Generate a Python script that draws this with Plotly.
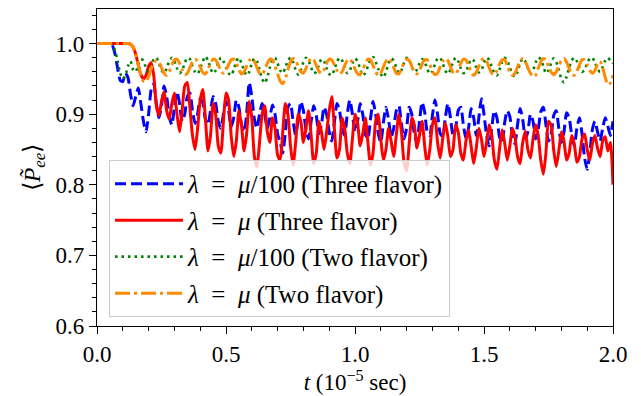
import plotly.graph_objects as go

t = [i / 100 for i in range(201)]

p_mu100_three = [
    1.0, 1.0, 1.0, 1.0, 1.0, 1.0, 0.997, 0.985, 0.965, 0.948,
    0.946, 0.958, 0.952, 0.928, 0.912, 0.925, 0.937, 0.915, 0.89, 0.875,
    0.9, 0.935, 0.943, 0.915, 0.895, 0.912, 0.94, 0.925, 0.897, 0.885,
    0.91, 0.932, 0.915, 0.89, 0.9, 0.925, 0.93, 0.905, 0.887, 0.9,
    0.922, 0.916, 0.893, 0.885, 0.905, 0.925, 0.915, 0.89, 0.88, 0.9,
    0.918, 0.905, 0.882, 0.895, 0.92, 0.91, 0.885, 0.875, 0.9, 0.945,
    0.925, 0.893, 0.88, 0.9, 0.915, 0.9, 0.88, 0.895, 0.913, 0.9,
    0.872, 0.86, 0.845, 0.875, 0.91, 0.915, 0.89, 0.87, 0.893, 0.918,
    0.905, 0.878, 0.865, 0.89, 0.912, 0.898, 0.872, 0.885, 0.91, 0.9,
    0.875, 0.862, 0.888, 0.915, 0.905, 0.88, 0.87, 0.9, 0.92, 0.9,
    0.875, 0.89, 0.915, 0.9, 0.872, 0.865, 0.893, 0.918, 0.9, 0.873,
    0.86, 0.888, 0.91, 0.893, 0.868, 0.88, 0.905, 0.912, 0.886, 0.865,
    0.88, 0.91, 0.9, 0.872, 0.86, 0.89, 0.917, 0.903, 0.875, 0.87,
    0.898, 0.92, 0.9, 0.873, 0.868, 0.895, 0.915, 0.895, 0.87, 0.88,
    0.905, 0.91, 0.885, 0.865, 0.88, 0.908, 0.895, 0.87, 0.895, 0.922,
    0.9, 0.87, 0.855, 0.88, 0.905, 0.895, 0.868, 0.86, 0.888, 0.905,
    0.897, 0.87, 0.858, 0.885, 0.908, 0.893, 0.866, 0.875, 0.9, 0.89,
    0.865, 0.878, 0.903, 0.91, 0.885, 0.862, 0.87, 0.898, 0.905, 0.88,
    0.86, 0.875, 0.902, 0.895, 0.87, 0.855, 0.88, 0.895, 0.872, 0.838,
    0.822, 0.845, 0.878, 0.89, 0.875, 0.862, 0.88, 0.895, 0.883, 0.87,
    0.89,
]

p_mu_three = [
    1.0, 1.0, 1.0, 1.0, 1.0, 1.0, 1.0, 1.0, 1.0, 1.0,
    1.0, 1.0, 1.0, 0.999, 0.995, 0.985, 0.97, 0.956, 0.95, 0.955,
    0.968, 0.973, 0.955, 0.912, 0.898, 0.918, 0.932, 0.905, 0.893, 0.915,
    0.93, 0.9, 0.875, 0.905, 0.94, 0.945, 0.91, 0.87, 0.85, 0.88,
    0.92, 0.935, 0.895, 0.848, 0.87, 0.915, 0.9, 0.855, 0.845, 0.89,
    0.93, 0.92, 0.87, 0.84, 0.862, 0.905, 0.885, 0.848, 0.872, 0.918,
    0.895, 0.84, 0.825, 0.86, 0.9, 0.912, 0.875, 0.86, 0.895, 0.88,
    0.842, 0.835, 0.875, 0.915, 0.9, 0.855, 0.828, 0.86, 0.9, 0.89,
    0.86, 0.88, 0.905, 0.87, 0.83, 0.845, 0.89, 0.875, 0.85, 0.875,
    0.905, 0.925, 0.88, 0.838, 0.85, 0.895, 0.88, 0.845, 0.83, 0.865,
    0.9, 0.888, 0.855, 0.872, 0.895, 0.86, 0.828, 0.845, 0.89, 0.9,
    0.865, 0.835, 0.85, 0.88, 0.862, 0.84, 0.87, 0.9, 0.875, 0.832,
    0.82, 0.858, 0.895, 0.885, 0.852, 0.87, 0.89, 0.855, 0.828, 0.85,
    0.885, 0.895, 0.86, 0.838, 0.865, 0.888, 0.868, 0.84, 0.85, 0.885,
    0.875, 0.845, 0.835, 0.862, 0.878, 0.855, 0.83, 0.852, 0.88, 0.865,
    0.84, 0.86, 0.885, 0.87, 0.835, 0.822, 0.85, 0.878, 0.86, 0.835,
    0.855, 0.88, 0.868, 0.84, 0.83, 0.86, 0.876, 0.85, 0.838, 0.865,
    0.885, 0.87, 0.835, 0.815, 0.845, 0.89, 0.885, 0.85, 0.826, 0.848,
    0.875, 0.862, 0.835, 0.845, 0.87, 0.858, 0.832, 0.84, 0.865, 0.872,
    0.85, 0.835, 0.858, 0.87, 0.852, 0.84, 0.862, 0.868, 0.848, 0.86,
    0.80,
]

p_mu100_two = [
    1.0, 1.0, 1.0, 1.0, 1.0, 1.0, 0.998, 0.99, 0.975, 0.958,
    0.95, 0.955, 0.968, 0.975, 0.963, 0.96, 0.97, 0.978, 0.976, 0.965,
    0.96, 0.968, 0.978, 0.98, 0.972, 0.962, 0.958, 0.965, 0.975, 0.98,
    0.975, 0.965, 0.958, 0.962, 0.972, 0.98, 0.978, 0.968, 0.96, 0.957,
    0.965, 0.975, 0.982, 0.976, 0.965, 0.958, 0.962, 0.973, 0.98, 0.975,
    0.966, 0.958, 0.955, 0.963, 0.975, 0.98, 0.972, 0.962, 0.955, 0.96,
    0.972, 0.979, 0.975, 0.963, 0.95, 0.944, 0.952, 0.966, 0.977, 0.98,
    0.972, 0.962, 0.958, 0.966, 0.976, 0.98, 0.974, 0.963, 0.956, 0.962,
    0.974, 0.98, 0.976, 0.966, 0.958, 0.96, 0.97, 0.978, 0.975, 0.965,
    0.957, 0.955, 0.963, 0.974, 0.98, 0.976, 0.966, 0.958, 0.962, 0.972,
    0.979, 0.975, 0.964, 0.955, 0.958, 0.968, 0.977, 0.981, 0.974, 0.964,
    0.957, 0.952, 0.96, 0.972, 0.979, 0.976, 0.966, 0.958, 0.962, 0.973,
    0.98, 0.977, 0.967, 0.96, 0.963, 0.972, 0.978, 0.974, 0.964, 0.957,
    0.96, 0.971, 0.979, 0.98, 0.972, 0.962, 0.957, 0.963, 0.974, 0.98,
    0.975, 0.965, 0.958, 0.96, 0.97, 0.978, 0.976, 0.966, 0.959, 0.962,
    0.973, 0.98, 0.977, 0.967, 0.958, 0.955, 0.963, 0.974, 0.98, 0.976,
    0.966, 0.957, 0.953, 0.96, 0.972, 0.979, 0.975, 0.965, 0.958, 0.962,
    0.973, 0.98, 0.978, 0.968, 0.958, 0.962, 0.972, 0.979, 0.974, 0.962,
    0.95, 0.945, 0.953, 0.966, 0.976, 0.98, 0.975, 0.966, 0.96, 0.963,
    0.972, 0.979, 0.98, 0.973, 0.964, 0.96, 0.967, 0.976, 0.98, 0.976,
    0.972,
]

p_mu_two = [
    1.0, 1.0, 1.0, 1.0, 1.0, 1.0, 1.0, 1.0, 1.0, 1.0,
    1.0, 1.0, 1.0, 0.999, 0.995, 0.985, 0.97, 0.955, 0.947, 0.946,
    0.953, 0.964, 0.972, 0.976, 0.974, 0.966, 0.958, 0.955, 0.96, 0.97,
    0.977, 0.978, 0.972, 0.963, 0.956, 0.958, 0.966, 0.974, 0.978, 0.975,
    0.967, 0.959, 0.957, 0.963, 0.972, 0.978, 0.977, 0.97, 0.962, 0.958,
    0.962, 0.97, 0.977, 0.978, 0.972, 0.963, 0.957, 0.96, 0.968, 0.976,
    0.979, 0.975, 0.966, 0.958, 0.956, 0.963, 0.972, 0.978, 0.977, 0.968,
    0.957, 0.947, 0.943, 0.95, 0.963, 0.974, 0.979, 0.976, 0.968, 0.96,
    0.958, 0.965, 0.974, 0.979, 0.977, 0.969, 0.961, 0.958, 0.963, 0.972,
    0.978, 0.977, 0.97, 0.962, 0.957, 0.96, 0.969, 0.976, 0.978, 0.973,
    0.964, 0.957, 0.956, 0.963, 0.972, 0.978, 0.977, 0.969, 0.96, 0.955,
    0.958, 0.967, 0.975, 0.979, 0.975, 0.966, 0.958, 0.957, 0.964, 0.973,
    0.978, 0.976, 0.968, 0.96, 0.957, 0.962, 0.971, 0.977, 0.977, 0.97,
    0.961, 0.956, 0.958, 0.967, 0.975, 0.979, 0.976, 0.967, 0.959, 0.957,
    0.963, 0.972, 0.978, 0.977, 0.969, 0.96, 0.955, 0.959, 0.968, 0.976,
    0.979, 0.975, 0.966, 0.958, 0.956, 0.962, 0.971, 0.977, 0.977, 0.969,
    0.96, 0.955, 0.958, 0.967, 0.975, 0.979, 0.975, 0.966, 0.958, 0.953,
    0.955, 0.965, 0.974, 0.979, 0.977, 0.968, 0.96, 0.956, 0.96, 0.969,
    0.976, 0.979, 0.974, 0.965, 0.957, 0.955, 0.961, 0.97, 0.977, 0.977,
    0.97, 0.962, 0.958, 0.962, 0.971, 0.975, 0.966, 0.952, 0.942, 0.944,
    0.955,
]

series_names = [
    "<i>λ</i>\u2002=\u2002<i>μ</i>/100 (Three flavor)",
    "<i>λ</i>\u2002=\u2002<i>μ</i> (Three flavor)",
    "<i>λ</i>\u2002=\u2002<i>μ</i>/100 (Two flavor)",
    "<i>λ</i>\u2002=\u2002<i>μ</i> (Two flavor)",
]
series_values = [p_mu100_three, p_mu_three, p_mu100_two, p_mu_two]
colors = ["#0000ff", "#ff0000", "#008000", "#ff8c00"]
dashes = ["11px,5px", "solid", "2.5px,4px", "15px,4px,3px,4px"]
widths = [3, 3, 2.6, 3]

FONT = "Liberation Serif"

fig = go.Figure()
for i, (name, vals) in enumerate(zip(series_names, series_values)):
    fig.add_trace(go.Scatter(
        x=t, y=vals, mode="lines", name=name, legendgroup=f"g{i}",
        line=dict(color=colors[i], width=widths[i], dash=dashes[i], shape="spline", smoothing=0.6),
    ))

axis_common = dict(
    showline=True, linecolor="black", linewidth=1.3, mirror=True,
    ticks="outside", ticklen=7, tickwidth=1.2, tickcolor="black",
    showgrid=False, zeroline=False,
    tickfont=dict(family=FONT, size=23, color="black"),
)

fig.update_xaxes(
    range=[0, 2.0], tick0=0, dtick=0.5, tickformat=".1f",
    minor=dict(dtick=0.1, ticks="outside", ticklen=4, tickwidth=1, tickcolor="black"),
    title=dict(text="<i>t</i> (10<sup>−5</sup> sec)", font=dict(family=FONT, size=23, color="black"), standoff=6),
    **axis_common,
)
fig.update_yaxes(
    range=[0.6, 1.049], tick0=0.6, dtick=0.1, tickformat=".1f",
    minor=dict(dtick=0.02, ticks="outside", ticklen=4, tickwidth=1, tickcolor="black"),
    title=dict(text="⟨<i>P̃</i><sub><i>ee</i></sub>⟩", font=dict(family=FONT, size=24, color="black"), standoff=8),
    **axis_common,
)

# the page adds an 8px body margin, so the figure is sized to the remaining window
fig.update_layout(
    width=633, height=388,
    margin=dict(l=89, r=28, t=1, b=70),
    paper_bgcolor="white", plot_bgcolor="white",
    font=dict(family=FONT, size=24, color="black"),
    legend=dict(
        x=0.0233, y=0.524, xanchor="left", yanchor="top",
        bgcolor="rgba(255,255,255,0.8)", bordercolor="#cccccc", borderwidth=1,
        font=dict(family=FONT, size=25, color="black"),
        traceorder="grouped", tracegroupgap=1, itemwidth=68,
    ),
)

fig.write_html("out.html")
